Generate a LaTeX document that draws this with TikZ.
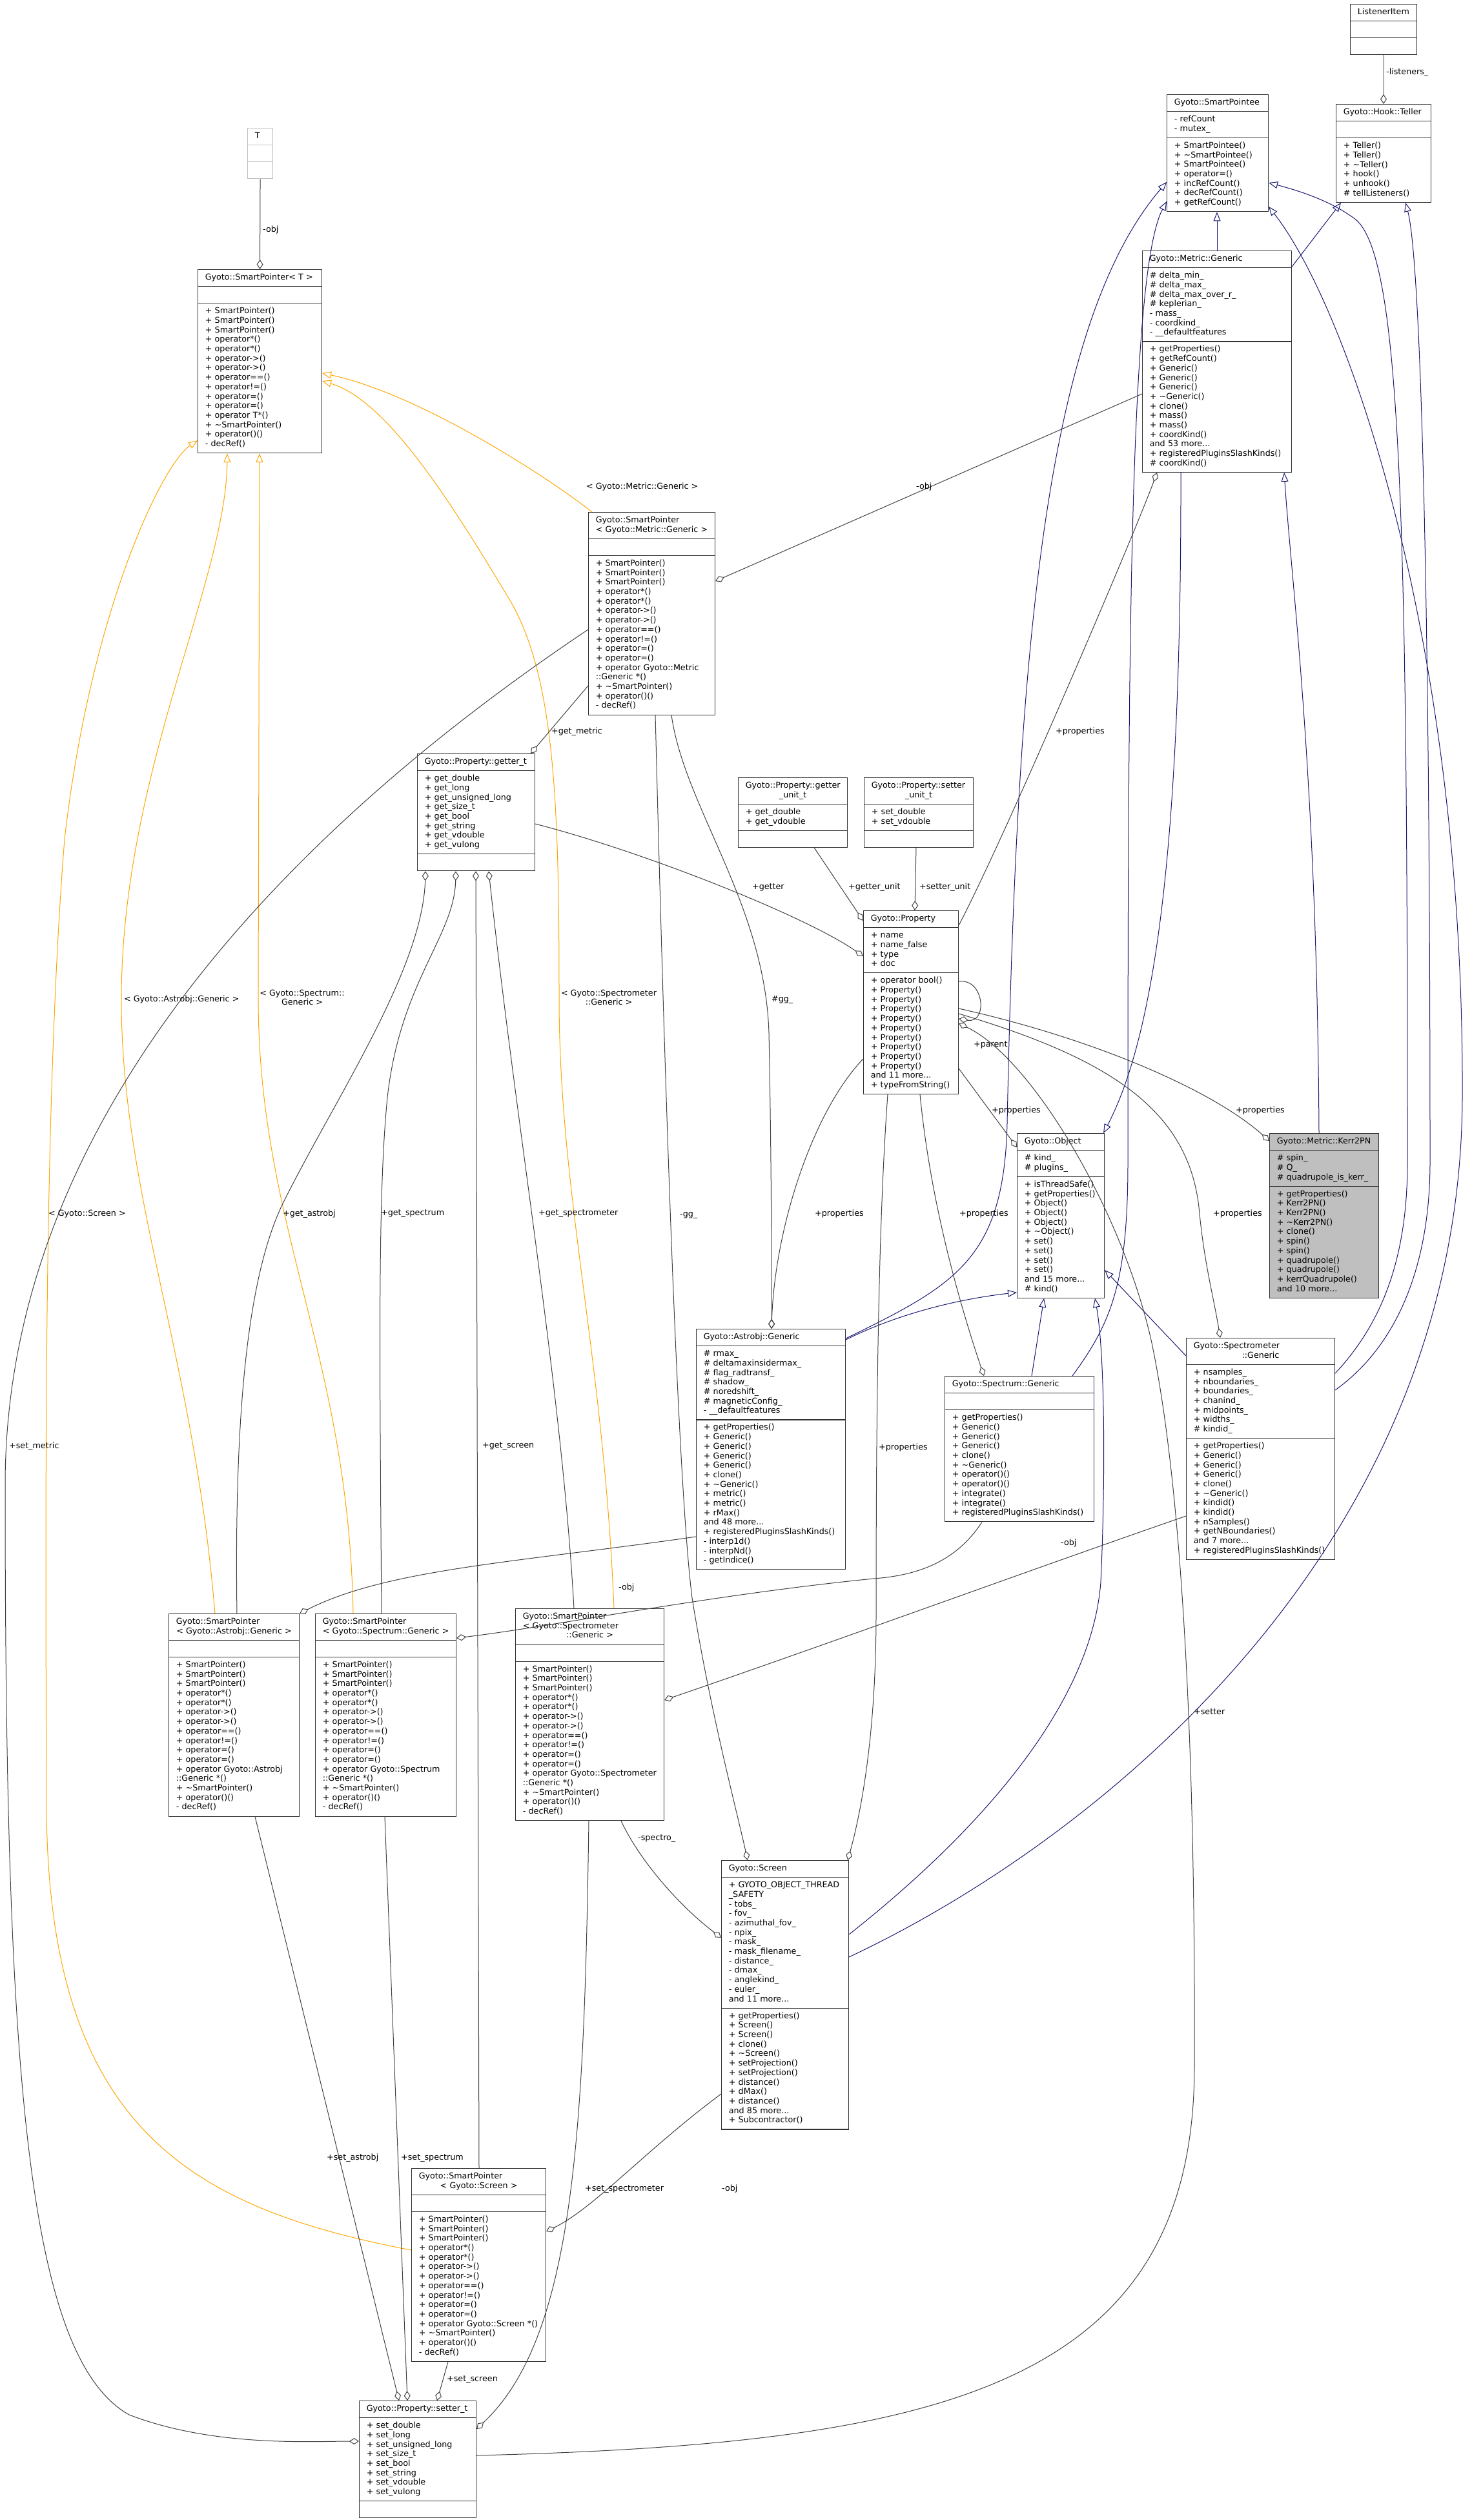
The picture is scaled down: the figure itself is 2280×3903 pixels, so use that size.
\documentclass[tikz,border=0pt]{standalone}
\usepackage{fontspec}
\setmainfont{DejaVu Sans}
\usetikzlibrary{shapes.multipart, arrows.meta, calc}

\definecolor{edgegray}{HTML}{404040}
\definecolor{inhblue}{HTML}{191970}
\definecolor{tplorange}{HTML}{FFA500}

\newcommand{\ml}[1]{\begin{tabular}{@{}l@{}}#1\end{tabular}}
\newcommand{\ttl}[2]{\begin{tabular}{@{}p{\linewidth}@{}}#1\\\centering\mbox{#2}\end{tabular}}
\newcommand{\tld}{\textasciitilde}

\tikzset{
	cls/.style={rectangle split, rectangle split parts=3, draw=black!80, line width=1.1pt, fill=white, inner xsep=11.3pt, inner ysep=5.15pt, anchor=north west},
	uses/.style={draw=edgegray, line width=1pt, -{Diamond[open, length=15pt, width=10pt]}},
	inh/.style={draw=inhblue, line width=1pt, -{Triangle[open, length=14pt, width=11pt]}},
	tpl/.style={draw=tplorange, line width=1pt, -{Triangle[open, length=14pt, width=11pt]}},
	lbl/.style={inner sep=0pt, anchor=west},
}

\begin{document}
\begin{tikzpicture}[x=1pt, y=-1pt, font=\fontsize{12.7}{14.7}\selectfont]

	\useasboundingbox (0, 0) rectangle (2280, 3903);

	% classes
	\node (listener) [cls, text width=80.4pt] at (2091, 6) {\centering\strut ListenerItem\nodepart{second}\strut\nodepart{third}\strut};
	\node (teller) [cls, text width=124.4pt] at (2069, 161) {\centering\strut Gyoto::Hook::Teller\nodepart{second}\strut\nodepart{third}\ml{+ Teller()\\+ Teller()\\+ \tld Teller()\\+ hook()\\+ unhook()\\\# tellListeners()}};
	\node (pointee) [cls, text width=134.4pt] at (1807, 146) {\centering\strut Gyoto::SmartPointee\nodepart{second}\ml{- refCount\\- mutex\_}\nodepart{third}\ml{+ SmartPointee()\\+ \tld SmartPointee()\\+ SmartPointee()\\+ operator=()\\+ incRefCount()\\+ decRefCount()\\+ getRefCount()}};
	\node (T) [cls, draw=black!25, text width=16.4pt] at (383, 198) {\centering\strut T\nodepart{second}\strut\nodepart{third}\strut};
	\node (sp) [cls, text width=169.4pt] at (306, 417) {\centering\strut Gyoto::SmartPointer< T >\nodepart{second}\strut\nodepart{third}\ml{+ SmartPointer()\\+ SmartPointer()\\+ SmartPointer()\\+ operator*()\\+ operator*()\\+ operator->()\\+ operator->()\\+ operator==()\\+ operator!=()\\+ operator=()\\+ operator=()\\+ operator T*()\\+ \tld SmartPointer()\\+ operator()()\\- decRef()}};
	\node (metric) [cls, text width=208.4pt] at (1769, 388) {\centering\strut Gyoto::Metric::Generic\nodepart{second}\ml{\# delta\_min\_\\\# delta\_max\_\\\# delta\_max\_over\_r\_\\\# keplerian\_\\- mass\_\\- coordkind\_\\- \_\_defaultfeatures}\nodepart{third}\ml{+ getProperties()\\+ getRefCount()\\+ Generic()\\+ Generic()\\+ Generic()\\+ \tld Generic()\\+ clone()\\+ mass()\\+ mass()\\+ coordKind()\\and 53 more...\\+ registeredPluginsSlashKinds()\\\# coordKind()}};
	\node (spmetric) [cls, text width=173.4pt] at (911, 793) {\ttl{Gyoto::SmartPointer}{< Gyoto::Metric::Generic >}\nodepart{second}\strut\nodepart{third}\ml{+ SmartPointer()\\+ SmartPointer()\\+ SmartPointer()\\+ operator*()\\+ operator*()\\+ operator->()\\+ operator->()\\+ operator==()\\+ operator!=()\\+ operator=()\\+ operator=()\\+ operator Gyoto::Metric\\::Generic *()\\+ \tld SmartPointer()\\+ operator()()\\- decRef()}};
	\node (getter) [cls, text width=159.4pt] at (646, 1167) {\centering\strut Gyoto::Property::getter\_t\nodepart{second}\ml{+ get\_double\\+ get\_long\\+ get\_unsigned\_long\\+ get\_size\_t\\+ get\_bool\\+ get\_string\\+ get\_vdouble\\+ get\_vulong}\nodepart{third}\strut};
	\node (getterunit) [cls, text width=146.4pt] at (1143, 1204) {\ttl{Gyoto::Property::getter}{\_unit\_t}\nodepart{second}\ml{+ get\_double\\+ get\_vdouble}\nodepart{third}\strut};
	\node (setterunit) [cls, text width=146.4pt] at (1338, 1204) {\ttl{Gyoto::Property::setter}{\_unit\_t}\nodepart{second}\ml{+ set\_double\\+ set\_vdouble}\nodepart{third}\strut};
	\node (prop) [cls, text width=124.4pt] at (1337, 1410) {\centering\strut Gyoto::Property\nodepart{second}\ml{+ name\\+ name\_false\\+ type\\+ doc}\nodepart{third}\ml{+ operator bool()\\+ Property()\\+ Property()\\+ Property()\\+ Property()\\+ Property()\\+ Property()\\+ Property()\\+ Property()\\+ Property()\\and 11 more...\\+ typeFromString()}};
	\node (kerr) [cls, fill=black!25, text width=146.4pt] at (1966, 1755) {\centering\strut Gyoto::Metric::Kerr2PN\nodepart{second}\ml{\# spin\_\\\# Q\_\\\# quadrupole\_is\_kerr\_}\nodepart{third}\ml{+ getProperties()\\+ Kerr2PN()\\+ Kerr2PN()\\+ \tld Kerr2PN()\\+ clone()\\+ spin()\\+ spin()\\+ quadrupole()\\+ quadrupole()\\+ kerrQuadrupole()\\and 10 more...}};
	\node (object) [cls, text width=112.4pt] at (1575, 1755) {\centering\strut Gyoto::Object\nodepart{second}\ml{\# kind\_\\\# plugins\_}\nodepart{third}\ml{+ isThreadSafe()\\+ getProperties()\\+ Object()\\+ Object()\\+ Object()\\+ \tld Object()\\+ set()\\+ set()\\+ set()\\+ set()\\and 15 more...\\\# kind()}};
	\node (astrobj) [cls, text width=208.4pt] at (1078, 2058) {\centering\strut Gyoto::Astrobj::Generic\nodepart{second}\ml{\# rmax\_\\\# deltamaxinsidermax\_\\\# flag\_radtransf\_\\\# shadow\_\\\# noredshift\_\\\# magneticConfig\_\\- \_\_defaultfeatures}\nodepart{third}\ml{+ getProperties()\\+ Generic()\\+ Generic()\\+ Generic()\\+ Generic()\\+ clone()\\+ \tld Generic()\\+ metric()\\+ metric()\\+ rMax()\\and 48 more...\\+ registeredPluginsSlashKinds()\\- interp1d()\\- interpNd()\\- getIndice()}};
	\node (spectrum) [cls, text width=208.4pt] at (1463, 2131) {\centering\strut Gyoto::Spectrum::Generic\nodepart{second}\strut\nodepart{third}\ml{+ getProperties()\\+ Generic()\\+ Generic()\\+ Generic()\\+ clone()\\+ \tld Generic()\\+ operator()()\\+ operator()()\\+ integrate()\\+ integrate()\\+ registeredPluginsSlashKinds()}};
	\node (spectrometer) [cls, text width=207.4pt] at (1837, 2072) {\ttl{Gyoto::Spectrometer}{::Generic}\nodepart{second}\ml{+ nsamples\_\\+ nboundaries\_\\+ boundaries\_\\+ chanind\_\\+ midpoints\_\\+ widths\_\\\# kindid\_}\nodepart{third}\ml{+ getProperties()\\+ Generic()\\+ Generic()\\+ Generic()\\+ clone()\\+ \tld Generic()\\+ kindid()\\+ kindid()\\+ nSamples()\\+ getNBoundaries()\\and 7 more...\\+ registeredPluginsSlashKinds()}};
	\node (spastro) [cls, text width=179.4pt] at (261, 2499) {\ttl{Gyoto::SmartPointer}{< Gyoto::Astrobj::Generic >}\nodepart{second}\strut\nodepart{third}\ml{+ SmartPointer()\\+ SmartPointer()\\+ SmartPointer()\\+ operator*()\\+ operator*()\\+ operator->()\\+ operator->()\\+ operator==()\\+ operator!=()\\+ operator=()\\+ operator=()\\+ operator Gyoto::Astrobj\\::Generic *()\\+ \tld SmartPointer()\\+ operator()()\\- decRef()}};
	\node (spspectrum) [cls, text width=195.4pt] at (488, 2499) {\ttl{Gyoto::SmartPointer}{< Gyoto::Spectrum::Generic >}\nodepart{second}\strut\nodepart{third}\ml{+ SmartPointer()\\+ SmartPointer()\\+ SmartPointer()\\+ operator*()\\+ operator*()\\+ operator->()\\+ operator->()\\+ operator==()\\+ operator!=()\\+ operator=()\\+ operator=()\\+ operator Gyoto::Spectrum\\::Generic *()\\+ \tld SmartPointer()\\+ operator()()\\- decRef()}};
	\node (spspectro) [cls, text width=207.4pt] at (798, 2491) {\ttl{Gyoto::SmartPointer\\< Gyoto::Spectrometer}{::Generic >}\nodepart{second}\strut\nodepart{third}\ml{+ SmartPointer()\\+ SmartPointer()\\+ SmartPointer()\\+ operator*()\\+ operator*()\\+ operator->()\\+ operator->()\\+ operator==()\\+ operator!=()\\+ operator=()\\+ operator=()\\+ operator Gyoto::Spectrometer\\::Generic *()\\+ \tld SmartPointer()\\+ operator()()\\- decRef()}};
	\node (screen) [cls, text width=174.4pt] at (1117, 2881) {\centering\strut Gyoto::Screen\nodepart{second}\ml{+ GYOTO\_OBJECT\_THREAD\\\_SAFETY\\- tobs\_\\- fov\_\\- azimuthal\_fov\_\\- npix\_\\- mask\_\\- mask\_filename\_\\- distance\_\\- dmax\_\\- anglekind\_\\- euler\_\\and 11 more...}\nodepart{third}\ml{+ getProperties()\\+ Screen()\\+ Screen()\\+ clone()\\+ \tld Screen()\\+ setProjection()\\+ setProjection()\\+ distance()\\+ dMax()\\+ distance()\\and 85 more...\\+ Subcontractor()}};
	\node (spscreen) [cls, text width=185.4pt] at (637, 3358) {\ttl{Gyoto::SmartPointer}{< Gyoto::Screen >}\nodepart{second}\strut\nodepart{third}\ml{+ SmartPointer()\\+ SmartPointer()\\+ SmartPointer()\\+ operator*()\\+ operator*()\\+ operator->()\\+ operator->()\\+ operator==()\\+ operator!=()\\+ operator=()\\+ operator=()\\+ operator Gyoto::Screen *()\\+ \tld SmartPointer()\\+ operator()()\\- decRef()}};
	\node (setter) [cls, text width=158.4pt] at (556, 3718) {\centering\strut Gyoto::Property::setter\_t\nodepart{second}\ml{+ set\_double\\+ set\_long\\+ set\_unsigned\_long\\+ set\_size\_t\\+ set\_bool\\+ set\_string\\+ set\_vdouble\\+ set\_vulong}\nodepart{third}\strut};

	% inheritance
	\draw[inh] ($(metric.north west)+(116,0)$) -- ($(pointee.south west)+(78,0)$);
	\draw[inh] ($(metric.north east)+(0,25)$) -- ($(teller.south west)+(8,0)$);
	\draw[inh] ($(metric.south west)+(60,0)$) .. controls (1830,1300) and (1790,1600) .. ($(object.north east)+(-2,0)$);
	\draw[inh] ($(kerr.north west)+(77,0)$) .. controls (2040,1200) and (2000,900) .. ($(metric.south east)+(-12,0)$);
	\draw[inh] ($(astrobj.north east)+(0,17)$) .. controls (1400,2030) and (1500,2010) .. ($(object.south west)+(0,-9)$);
	\draw[inh] ($(astrobj.north east)+(0,15)$) .. controls (1480,1990) and (1555,1950) .. (1560,1740) .. controls (1575,1000) and (1620,500) .. ($(pointee.north west)+(0,136)$);
	\draw[inh] ($(spectrum.north west)+(135,0)$) -- ($(object.south west)+(42,0)$);
	\draw[inh] ($(spectrum.north west)+(198,0)$) .. controls (1720,2050) and (1747,1990) .. (1747,1800) .. controls (1747,1000) and (1750,420) .. ($(pointee.north west)+(0,166)$);
	\draw[inh] ($(spectrometer.north west)+(0,28)$) -- ($(object.north east)+(0,212)$);
	\draw[inh] ($(spectrometer.north east)+(0,55)$) .. controls (2140,2050) and (2180,1950) .. (2180,1800) .. controls (2180,800) and (2170,400) .. (2100,340) .. controls (2060,310) and (2010,295) .. ($(pointee.north east)+(0,137)$);
	\draw[inh] ($(spectrometer.north east)+(0,81)$) .. controls (2170,2080) and (2215,1950) .. (2215,1800) .. controls (2215,900) and (2200,400) .. ($(teller.south west)+(108,0)$);
	\draw[inh] ($(screen.north east)+(0,115)$) .. controls (1500,2850) and (1690,2650) .. (1705,2450) .. controls (1712,2300) and (1712,2100) .. ($(object.south west)+(121,0)$);
	\draw[inh] ($(screen.north east)+(0,150)$) .. controls (1700,2850) and (2262,2400) .. (2265,1700) .. controls (2268,1000) and (2090,480) .. ($(pointee.north east)+(0,174)$);

	% templates
	\draw[tpl] ($(spmetric.north west)+(6,0)$) .. controls (850,740) and (650,610) .. ($(sp.north east)+(0,161)$);
	\draw[tpl] ($(spspectro.north west)+(153,0)$) .. controls (935,2100) and (866,1850) .. (866,1545) .. controls (866,1250) and (860,1050) .. (790,930) .. controls (700,780) and (600,620) .. ($(sp.north east)+(0,173)$);
	\draw[tpl] ($(spastro.north west)+(72,0)$) .. controls (300,2100) and (188,1850) .. (188,1548) .. controls (188,1200) and (350,900) .. ($(sp.south west)+(46,0)$);
	\draw[tpl] ($(spspectrum.north west)+(59,0)$) .. controls (540,2100) and (400,1900) .. (400,1545) -- ($(sp.south west)+(96,0)$);
	\draw[tpl] ($(spscreen.north west)+(0,127)$) .. controls (300,3420) and (75,3300) .. (72,2800) .. controls (70,2300) and (68,1700) .. (100,1300) .. controls (140,950) and (250,720) .. ($(sp.south west)+(0,-20)$);

	% members
	\draw[uses] (listener.south) -- (teller.north);
	\draw[uses] (T.south) -- (sp.north);
	\draw[uses] ($(metric.north west)+(0,222)$) -- ($(spmetric.north east)+(0,107)$);
	\draw[uses] ($(spmetric.north west)+(0,269)$) -- ($(getter.north west)+(176,0)$);
	\draw[uses] ($(spmetric.north west)+(0,182)$) .. controls (500,1250) and (8,1700) .. (8,2300) .. controls (8,3200) and (40,3650) .. (200,3740) .. controls (330,3790) and (480,3781) .. ($(setter.north west)+(0,63)$);
	\draw[uses] ($(getterunit.south west)+(118,0)$) -- ($(prop.north west)+(0,16)$);
	\draw[uses] ($(setterunit.south west)+(81,0)$) -- ($(prop.north west)+(80,0)$);
	\draw[uses] ($(getter.north east)+(0,109)$) .. controls (1000,1320) and (1250,1420) .. ($(prop.north west)+(0,71)$);
	\draw[uses] ($(prop.north east)+(0,110)$) .. controls (1525,1515) and (1530,1585) .. ($(prop.north east)+(0,168)$);
	\draw[uses] ($(prop.north east)+(0,23)$) .. controls (1560,1290) and (1760,820) .. ($(metric.south west)+(23,0)$);
	\draw[uses] ($(prop.north east)+(0,245)$) -- ($(object.north west)+(0,22)$);
	\draw[uses] ($(prop.north east)+(0,152)$) .. controls (1700,1610) and (1880,1690) .. ($(kerr.north west)+(0,12)$);
	\draw[uses] ($(prop.north east)+(0,160)$) .. controls (1720,1640) and (1845,1720) .. (1858,1880) .. controls (1866,1960) and (1880,2010) .. ($(spectrometer.north west)+(53,0)$);
	\draw[uses] ($(prop.south west)+(88,0)$) .. controls (1440,1850) and (1480,2000) .. ($(spectrum.north west)+(61,0)$);
	\draw[uses] ($(prop.north west)+(0,230)$) .. controls (1260,1720) and (1200,1900) .. ($(astrobj.north west)+(117,0)$);
	\draw[uses] ($(prop.south west)+(38,0)$) .. controls (1360,1900) and (1357,2200) .. (1357,2500) .. controls (1357,2700) and (1330,2820) .. ($(screen.north east)+(-2,0)$);
	\draw[uses] ($(setter.north east)+(0,85)$) .. controls (1450,3785) and (1850,3700) .. (1850,3200) .. controls (1852,2700) and (1830,2300) .. (1784,2080) .. controls (1740,1880) and (1600,1640) .. ($(prop.north east)+(0,175)$);
	\draw[uses] ($(spmetric.south west)+(129,0)$) .. controls (1060,1250) and (1185,1400) .. (1191,1600) .. controls (1195,1800) and (1195,1950) .. ($(astrobj.north west)+(117,0)$);
	\draw[uses] ($(spmetric.south west)+(104,0)$) .. controls (1030,1700) and (1050,2300) .. (1072,2475) .. controls (1100,2650) and (1140,2800) .. ($(screen.north west)+(41,0)$);
	\draw[uses] ($(spastro.north west)+(106,0)$) .. controls (362,2150) and (390,1960) .. (440,1860) .. controls (520,1700) and (655,1500) .. ($(getter.south west)+(13,0)$);
	\draw[uses] ($(spspectrum.north west)+(103,0)$) .. controls (588,2100) and (585,1850) .. (600,1700) .. controls (620,1520) and (704,1450) .. ($(getter.south west)+(60,0)$);
	\draw[uses] ($(spscreen.north west)+(105,0)$) -- ($(getter.south west)+(91,0)$);
	\draw[uses] ($(spspectro.north west)+(91,0)$) .. controls (870,2150) and (800,1750) .. ($(getter.south west)+(111,0)$);
	\draw[uses] ($(astrobj.north west)+(0,322)$) .. controls (800,2420) and (600,2430) .. (spastro.north east);
	\draw[uses] ($(spectrum.south west)+(58,0)$) .. controls (1480,2420) and (1420,2440) .. (1353,2445) .. controls (1100,2470) and (850,2520) .. ($(spspectrum.north east)+(0,38)$);
	\draw[uses] ($(spectrometer.north west)+(0,276)$) .. controls (1600,2430) and (1300,2540) .. ($(spspectro.north east)+(0,142)$);
	\draw[uses] ($(spspectro.south west)+(164,0)$) .. controls (990,2880) and (1050,2950) .. ($(screen.north west)+(0,120)$);
	\draw[uses] ($(screen.north west)+(0,362)$) .. controls (1000,3330) and (920,3420) .. ($(spscreen.north east)+(0,98)$);
	\draw[uses] ($(spastro.south west)+(134,0)$) -- ($(setter.north west)+(62,0)$);
	\draw[uses] ($(spspectrum.south west)+(108,0)$) -- ($(setter.north west)+(75,0)$);
	\draw[uses] ($(spscreen.south west)+(57,0)$) -- ($(setter.north west)+(121,0)$);
	\draw[uses] ($(spspectro.south west)+(114,0)$) .. controls (905,3300) and (890,3620) .. ($(setter.north east)+(0,44)$);

	% labels
	\node (l-listeners) [lbl] at (2147, 112) {-listeners\_};
	\node (l-tobj) [lbl] at (407, 356) {-obj};
	\node (l-mobj) [lbl] at (1419, 754) {-obj};
	\node (l-tmetric) [lbl] at (908, 754) {< Gyoto::Metric::Generic >};
	\node (l-getmetric) [lbl] at (854, 1133) {+get\_metric};
	\node (l-mprop) [lbl] at (1635, 1133) {+properties};
	\node (l-getter) [lbl] at (1165, 1374) {+getter};
	\node (l-getterunit) [lbl] at (1314, 1374) {+getter\_unit};
	\node (l-setterunit) [lbl] at (1424, 1374) {+setter\_unit};
	\node (l-agg) [lbl] at (1195, 1548) {\#gg\_};
	\node (l-tastro) [lbl] at (192, 1548) {< Gyoto::Astrobj::Generic >};
	\node (l-tspectrum) [align=center, inner sep=0pt] at (468, 1545) {< Gyoto::Spectrum::\\Generic >};
	\node (l-tspectro) [align=center, inner sep=0pt] at (943, 1545) {< Gyoto::Spectrometer\\::Generic >};
	\node (l-parent) [lbl] at (1508, 1618) {+parent};
	\node (l-oprop) [lbl] at (1536, 1720) {+properties};
	\node (l-kprop) [lbl] at (1914, 1720) {+properties};
	\node (l-tscreen) [lbl] at (75, 1880) {< Gyoto::Screen >};
	\node (l-getastro) [lbl] at (438, 1880) {+get\_astrobj};
	\node (l-getspectrum) [lbl] at (590, 1880) {+get\_spectrum};
	\node (l-getspectro) [lbl] at (834, 1880) {+get\_spectrometer};
	\node (l-sgg) [lbl] at (1053, 1882) {-gg\_};
	\node (l-aprop) [lbl] at (1262, 1880) {+properties};
	\node (l-spprop) [lbl] at (1486, 1880) {+properties};
	\node (l-smprop) [lbl] at (1879, 1880) {+properties};
	\node (l-setmetric) [lbl] at (14, 2240) {+set\_metric};
	\node (l-getscreen) [lbl] at (747, 2240) {+get\_screen};
	\node (l-scprop) [lbl] at (1361, 2242) {+properties};
	\node (l-smobj) [lbl] at (1643, 2390) {-obj};
	\node (l-aobj) [lbl] at (958, 2459) {-obj};
	\node (l-setter) [lbl] at (1849, 2651) {+setter};
	\node (l-spectro) [lbl] at (988, 2848) {-spectro\_};
	\node (l-setastro) [lbl] at (506, 3342) {+set\_astrobj};
	\node (l-setspectrum) [lbl] at (621, 3342) {+set\_spectrum};
	\node (l-setspectro) [lbl] at (906, 3390) {+set\_spectrometer};
	\node (l-scobj) [lbl] at (1118, 3390) {-obj};
	\node (l-setscreen) [lbl] at (692, 3685) {+set\_screen};

\end{tikzpicture}
\end{document}
